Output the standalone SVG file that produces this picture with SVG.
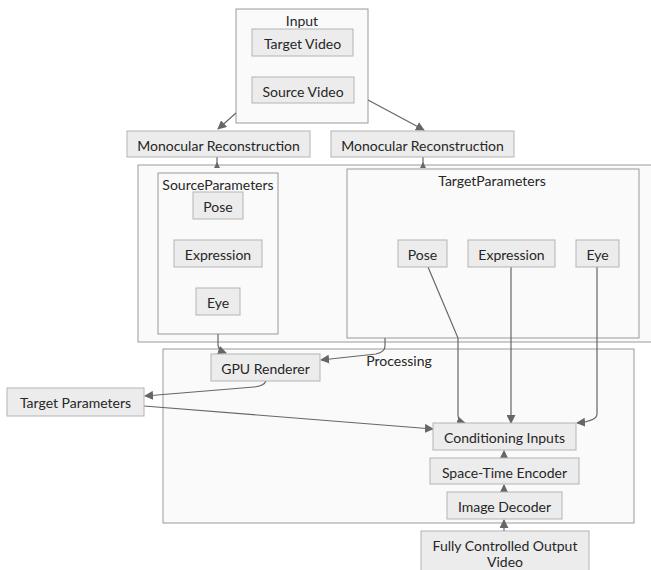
<svg xmlns="http://www.w3.org/2000/svg" width="651" height="570" viewBox="0 0 651 570">
<style>
  .cluster { fill: #fafafa; stroke: #9a9a9a; stroke-width: 1; }
  .node rect { fill: #ececec; stroke: #b4b4b4; stroke-width: 1; }
  text { font-family: Lato, "Liberation Sans", sans-serif; font-size: 14px; fill: #262626; text-anchor: middle; dominant-baseline: central; }
  .edge { fill: none; stroke: #666; stroke-width: 1.2; }
  .head { fill: #666; }
</style>
<defs>
  <marker id="arrow" markerUnits="userSpaceOnUse" markerWidth="9" markerHeight="9" viewBox="0 0 10 10" refX="9" refY="5" orient="auto">
    <path d="M0,0 L10,5 L0,10 z" fill="#666"/>
  </marker>
</defs>

<!-- clusters -->
<g id="input">
  <rect class="cluster" x="236" y="9" width="132" height="114"/>
  <text x="302" y="20">Input</text>
</g>
<g id="parameters">
  <rect class="cluster" x="138" y="165" width="520" height="177"/>
</g>
<g id="sourceParameters">
  <rect class="cluster" x="158" y="173" width="120" height="161"/>
  <text x="218" y="184">SourceParameters</text>
</g>
<g id="targetParameters">
  <rect class="cluster" x="347" y="169" width="292" height="169"/>
  <text x="492" y="180">TargetParameters</text>
</g>
<g id="processing">
  <rect class="cluster" x="163" y="349" width="471" height="174"/>
  <text x="399" y="360">Processing</text>
</g>

<!-- connectors -->
<g id="edges">
  <path class="edge" d="M236,113 L218,129" marker-end="url(#arrow)"/>
  <path class="edge" d="M368,100 L424,130" marker-end="url(#arrow)"/>
  <path class="edge" d="M217,157 L217,165"/>
  <path class="head" d="M214,168 L217,162 L220,168 z"/>
  <path class="edge" d="M423,157 L423,165"/>
  <path class="head" d="M420,168 L423,162 L426,168 z"/>
  <path class="edge" d="M218,334 L218,345 Q218,350 226,353" marker-end="url(#arrow)"/>
  <path class="edge" d="M385,338 L385,346 Q385,352 376,354 L321,360" marker-end="url(#arrow)"/>
  <path class="edge" d="M266,381 Q264,386 254,387 L145,396" marker-end="url(#arrow)"/>
  <path class="edge" d="M144,406 L433,429" marker-end="url(#arrow)"/>
  <path class="edge" d="M428,267 L458,338 L458,415 Q458,421 465,423" marker-end="url(#arrow)"/>
  <path class="edge" d="M511,267 L511,423" marker-end="url(#arrow)"/>
  <path class="edge" d="M597,267 L597,414 Q597,421 577,423" marker-end="url(#arrow)"/>
  <path class="edge" d="M504,458 L504,451" marker-end="url(#arrow)"/>
  <path class="edge" d="M504,492 L504,485" marker-end="url(#arrow)"/>
  <path class="edge" d="M504,531 L504,520" marker-end="url(#arrow)"/>
</g>

<!-- nodes -->
<g id="targetVideo" class="node"><rect x="252" y="29" width="101" height="27"/><text x="302.5" y="43">Target Video</text></g>
<g id="sourceVideo" class="node"><rect x="252" y="77" width="102" height="26"/><text x="303" y="91">Source Video</text></g>
<g id="monoSource" class="node"><rect x="127" y="131" width="183" height="26"/><text x="218.5" y="145">Monocular Reconstruction</text></g>
<g id="monoTarget" class="node"><rect x="331" y="131" width="183" height="26"/><text x="422.5" y="145">Monocular Reconstruction</text></g>
<g id="sourcePose" class="node"><rect x="193" y="192" width="50" height="27"/><text x="218" y="206">Pose</text></g>
<g id="sourceExpression" class="node"><rect x="174" y="240" width="88" height="27"/><text x="218" y="254">Expression</text></g>
<g id="sourceEye" class="node"><rect x="196" y="288" width="44" height="27"/><text x="218" y="302">Eye</text></g>
<g id="targetPose" class="node"><rect x="398" y="240" width="49" height="27"/><text x="422.5" y="254">Pose</text></g>
<g id="targetExpression" class="node"><rect x="468" y="240" width="87" height="27"/><text x="511.5" y="254">Expression</text></g>
<g id="targetEye" class="node"><rect x="576" y="240" width="43" height="27"/><text x="597.5" y="254">Eye</text></g>
<g id="gpuRenderer" class="node"><rect x="211" y="354" width="109" height="27"/><text x="265.5" y="368">GPU Renderer</text></g>
<g id="targetParametersNode" class="node"><rect x="7" y="388" width="137" height="28"/><text x="75.5" y="402">Target Parameters</text></g>
<g id="conditioningInputs" class="node"><rect x="433" y="423" width="143" height="27"/><text x="504.5" y="437">Conditioning Inputs</text></g>
<g id="spaceTimeEncoder" class="node"><rect x="430" y="458" width="149" height="26"/><text x="504.5" y="472">Space-Time Encoder</text></g>
<g id="imageDecoder" class="node"><rect x="447" y="492" width="115" height="27"/><text x="504.5" y="506">Image Decoder</text></g>
<g id="outputVideo" class="node"><rect x="421" y="531" width="168" height="42"/><text x="505" y="545">Fully Controlled Output</text><text x="505" y="561">Video</text></g>
</svg>
